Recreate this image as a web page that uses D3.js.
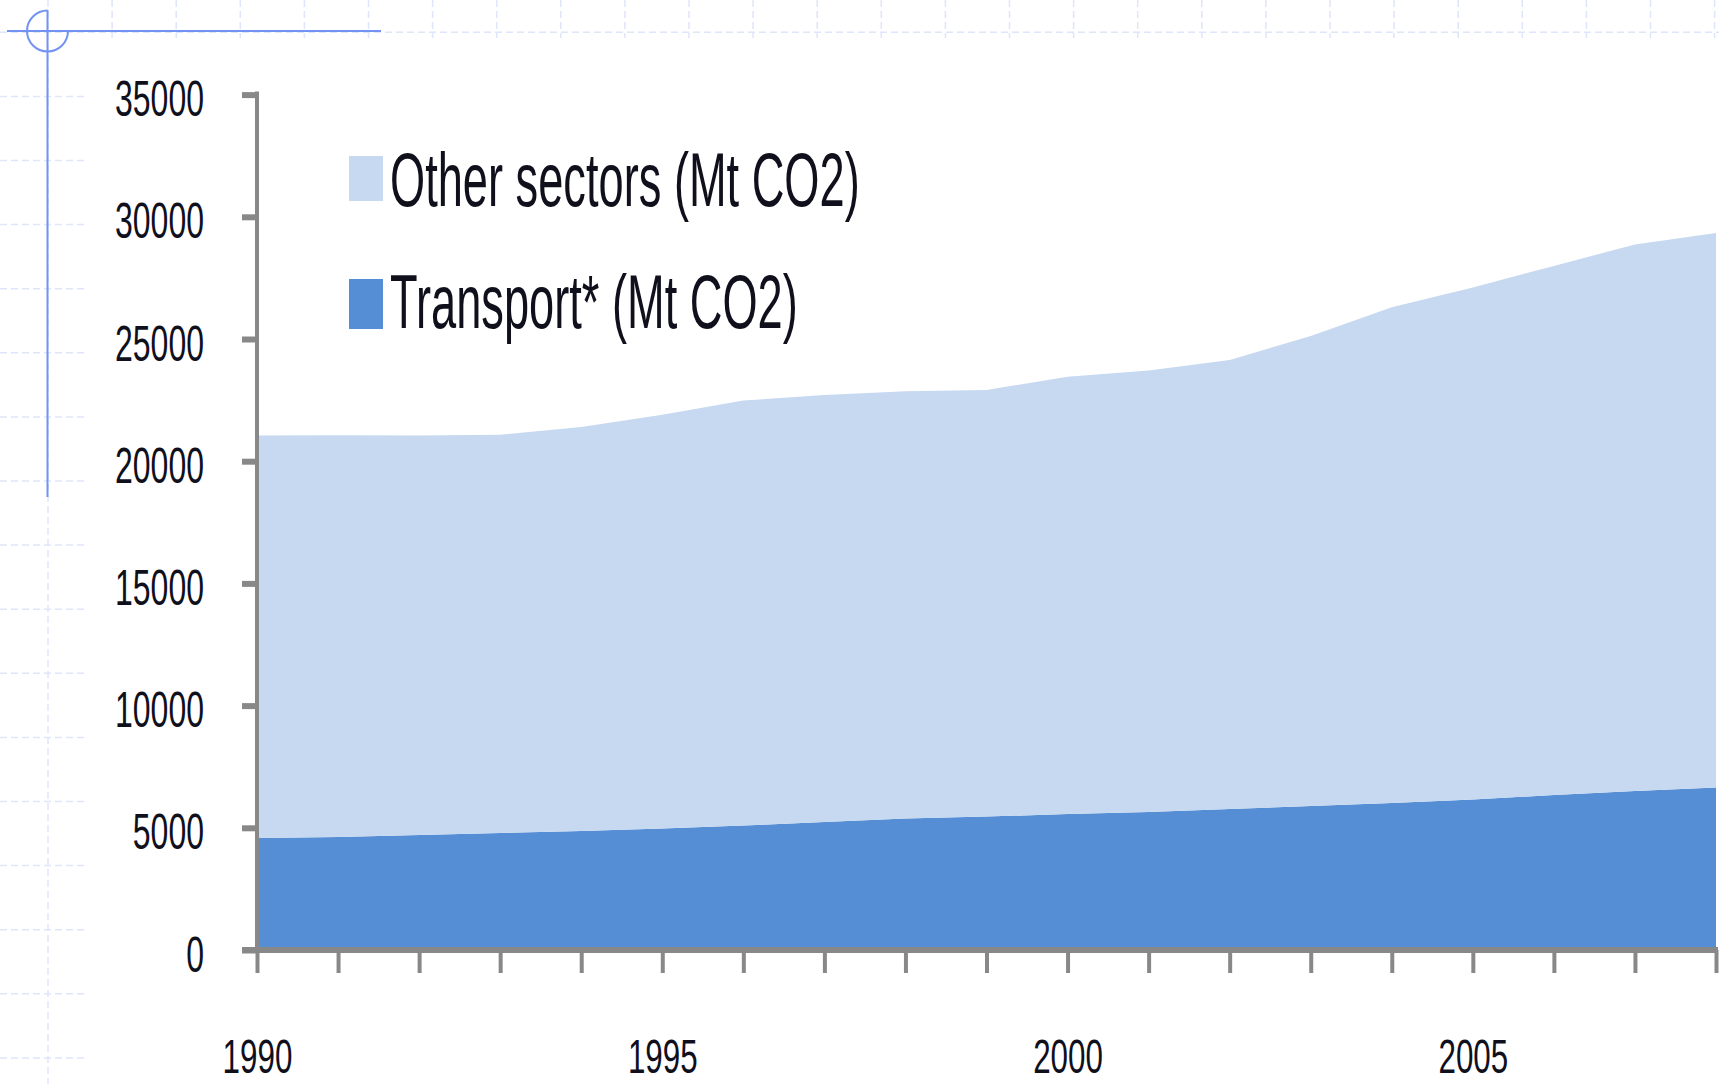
<!DOCTYPE html>
<html>
<head>
<meta charset="utf-8">
<script src="https://cdn.jsdelivr.net/npm/d3@7"></script>
<style>
  html, body { margin: 0; padding: 0; background: #ffffff; }
  svg { display: block; }
</style>
</head>
<body>
<svg id="chart" width="1719" height="1084"></svg>
<script>
// ---- Data ----
const years = [1990, 1991, 1992, 1993, 1994, 1995, 1996, 1997, 1998, 1999,
               2000, 2001, 2002, 2003, 2004, 2005, 2006, 2007, 2008];
const transport = [4580, 4620, 4710, 4790, 4870, 4970, 5090, 5240, 5380, 5460,
                   5560, 5650, 5770, 5890, 6010, 6160, 6340, 6510, 6650];
const otherSectors = [16470, 16440, 16340, 16290, 16530, 16930, 17390, 17470, 17480, 17450,
                      17900, 18060, 18370, 19230, 20290, 20950, 21650, 22360, 22690];
const yTicks = [0, 5000, 10000, 15000, 20000, 25000, 30000, 35000];
const xTickLabels = [1990, 1995, 2000, 2005];
const seriesKeys = ["transport", "other"];
const seriesNames = {other: "Other sectors (Mt CO2)", transport: "Transport* (Mt CO2)"};
const seriesColors = {other: "#C6D9F0", transport: "#558ED5"};

// ---- Setup ----
const W = 1719, H = 1084;
const svg = d3.select("#chart");
const FONT = "'Liberation Sans', Arial, sans-serif";

// Background dashed grid (slide grid)
const gridG = svg.append("g");
const gridX = d3.range(48, W, 64.1);
const gridY = d3.range(32.3, H, 64.1);
gridG.selectAll("line.gx").data(gridX).join("line")
  .attr("x1", d => d).attr("x2", d => d).attr("y1", 0).attr("y2", H)
  .attr("stroke", "#dfe5fa").attr("stroke-width", 1.5).attr("stroke-dasharray", "7,4");
gridG.selectAll("line.gy").data(gridY).join("line")
  .attr("y1", d => d).attr("y2", d => d).attr("x1", 0).attr("x2", W)
  .attr("stroke", "#dfe5fa").attr("stroke-width", 1.5).attr("stroke-dasharray", "7,4");

// White chart panel
svg.append("rect").attr("x", 88).attr("y", 38).attr("width", W - 88).attr("height", H - 38).attr("fill", "#ffffff");

// Crosshair guide
const guide = svg.append("g").attr("stroke", "#7393F3").attr("stroke-width", 2).attr("fill", "none");
guide.append("line").attr("x1", 7).attr("x2", 381).attr("y1", 31).attr("y2", 31);
guide.append("line").attr("x1", 47.5).attr("x2", 47.5).attr("y1", 10).attr("y2", 497);
const arc = d3.arc().innerRadius(20.5).outerRadius(20.5).startAngle(Math.PI / 2).endAngle(2 * Math.PI);
guide.append("path").attr("transform", "translate(47.5,31)").attr("d", arc());

// ---- Scales ----
const x = d3.scaleLinear().domain([1990, 2008]).range([257, 1716]);
const y = d3.scaleLinear().domain([0, 35000]).range([950, 94.6]);

// ---- Stacked areas ----
const rows = years.map((yr, i) => ({year: yr, transport: transport[i], other: otherSectors[i]}));
const stacked = d3.stack().keys(seriesKeys)(rows);
const area = d3.area()
  .x(d => x(d.data.year))
  .y0(d => y(d[0]))
  .y1(d => y(d[1]));
svg.append("g").selectAll("path").data(stacked).join("path")
  .attr("d", area)
  .attr("fill", d => seriesColors[d.key]);

// ---- Axes ----
const axisColor = "#888888";
const textColor = "#10101c";
const SX = 0.64;

// Y axis
const yAxisG = svg.append("g").attr("transform", `translate(${x(1990)},0)`)
  .call(d3.axisLeft(y).tickValues(yTicks).tickSize(15).tickSizeOuter(0).tickFormat(d3.format("d")));
yAxisG.select(".domain").remove();
yAxisG.selectAll(".tick line").attr("stroke", axisColor).attr("stroke-width", 6);
yAxisG.selectAll(".tick text")
  .attr("x", null).attr("dy", null).attr("y", null)
  .attr("transform", `translate(-53,21) scale(${SX},1)`)
  .attr("text-anchor", "end")
  .style("font-family", FONT).style("font-size", "50px").attr("fill", textColor);

// X axis
const xAxisG = svg.append("g").attr("transform", `translate(0,${y(0)})`)
  .call(d3.axisBottom(x).tickValues(years).tickSize(23).tickSizeOuter(0)
        .tickFormat(d => xTickLabels.includes(d) ? String(d) : ""));
xAxisG.select(".domain").remove();
xAxisG.selectAll(".tick line").attr("stroke", axisColor).attr("stroke-width", 4);
xAxisG.selectAll(".tick text")
  .attr("dy", null).attr("y", null)
  .attr("transform", `translate(0,123) scale(${SX},1)`)
  .attr("text-anchor", "middle")
  .style("font-family", FONT).style("font-size", "49px").attr("fill", textColor);

// Axis lines
svg.append("line").attr("x1", x(1990)).attr("x2", x(1990)).attr("y1", y(35000) - 3.2).attr("y2", y(0))
  .attr("stroke", axisColor).attr("stroke-width", 4);
svg.append("line").attr("x1", x(1990) - 15).attr("x2", x(2008) + 2).attr("y1", y(0)).attr("y2", y(0))
  .attr("stroke", axisColor).attr("stroke-width", 6);

// ---- Legend ----
const legendItems = [
  {key: "other", sy: 156, sh: 45, base: 206},
  {key: "transport", sy: 279, sh: 50, base: 328}
];
const lg = svg.append("g");
lg.selectAll("rect").data(legendItems).join("rect")
  .attr("x", 349).attr("y", d => d.sy).attr("width", 34).attr("height", d => d.sh)
  .attr("fill", d => seriesColors[d.key]);
lg.selectAll("text").data(legendItems).join("text")
  .attr("transform", d => `translate(390,${d.base}) scale(0.595,1)`)
  .style("font-family", FONT).style("font-size", "76px").attr("fill", textColor)
  .text(d => seriesNames[d.key]);
</script>
</body>
</html>
